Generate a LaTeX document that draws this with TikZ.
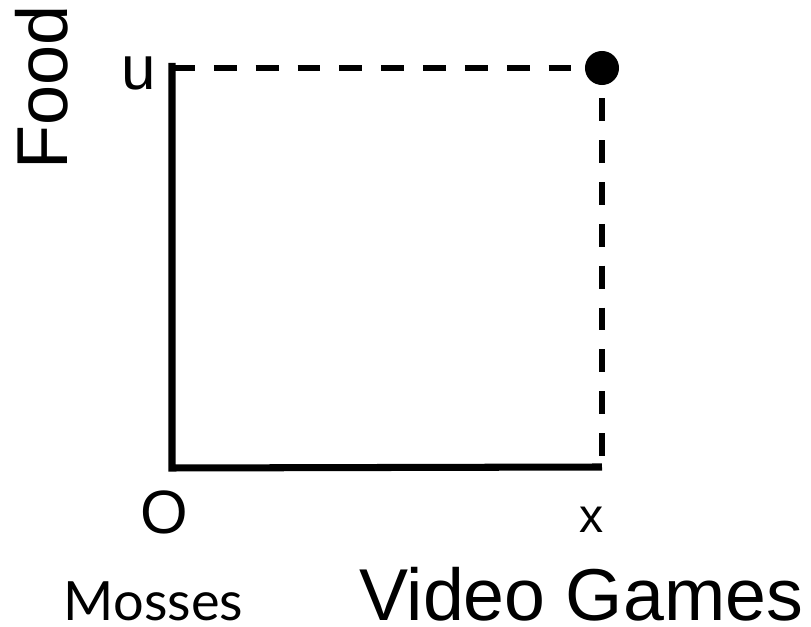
\documentclass[tikz,border=0pt]{standalone}
\usepackage{fontspec}
\setmainfont{Liberation Sans}
\newfontfamily\mossfont{Lato}
\newcommand{\fsz}[1]{\fontsize{#1}{1.2\dimexpr#1pt\relax}\selectfont}

\begin{document}
\begin{tikzpicture}[x=.01cm,y=.01cm,
    axis/.style={line width=2pt},
    guide/.style={line width=1.6pt,dash pattern=on 6.5pt off 5.4pt},
    lbl/.style={inner sep=0pt},
    dot/.style={circle,fill,inner sep=0pt,minimum size=.34cm}]
  \useasboundingbox (0,0) rectangle (811,627);
  % axes and guide lines
  \coordinate (ytop) at (172,564);
  \coordinate (ulev) at (172,559);
  \coordinate (orig) at (172,159);
  \coordinate (xend) at (602,160);
  \node[dot] (pt) at (602,559) {};
  \draw[axis] (ytop) -- (orig) -- (xend);
  \draw[guide] (ulev) -- (pt.center) -- (xend);
  % labels
  \node[lbl,rotate=90,font=\fsz{20.5}] (food) at (41.5,539.5) {Food};
  \node[lbl,font=\fsz{17.6}] (ulbl) at (138.5,553.5) {u};
  \node[lbl,font=\fsz{17.4}] (olbl) at (164.5,114.5) {O};
  \node[lbl,font=\fsz{13.7}] (xlbl) at (591.5,107.5) {x};
  \node[lbl,font=\mossfont\fsz{15.4}] (moss) at (153.5,26) {Mosses};
  \node[lbl,font=\fsz{20.9}] (games) at (581,33) {Video Games};
\end{tikzpicture}
\end{document}
